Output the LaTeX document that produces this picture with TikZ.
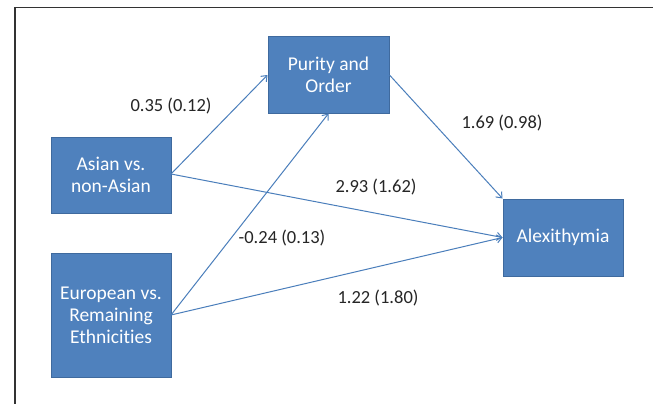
\documentclass[tikz,border=0pt]{standalone}
\usepackage{fontspec}
\setmainfont[Ligatures={NoCommon}]{Carlito}
\usetikzlibrary{arrows.meta}
\definecolor{boxfill}{HTML}{4F81BD}
\definecolor{boxline}{HTML}{3F6A9E}
\definecolor{arrowc}{HTML}{4A7EBB}
\begin{document}
\begin{tikzpicture}[x=1pt,y=-1pt,
  vbox/.style={draw=boxline, line width=1pt, fill=boxfill, text=white, align=center, inner sep=0pt,
    font=\fontsize{19.5}{22}\selectfont},
  link/.style={draw=arrowc, line width=1pt, -{Straight Barb[length=5pt,width=8pt]}},
  lbl/.style={font=\fontsize{18.5}{21}\selectfont, text=black!85}]
\useasboundingbox (0,0) rectangle (653,404);
\fill[white] (0,0) rectangle (653,404);
\draw[line width=1.3pt, black!80] (15,404) -- (15,7.5) -- (653,7.5);
\node[vbox, minimum width=121pt, minimum height=76pt] (pur) at (328.5,75) {Purity and\\Order};
\node[vbox, minimum width=120pt, minimum height=76pt] (asi) at (111,175) {Asian vs.\\non-Asian};
\node[vbox, minimum width=120pt, minimum height=124pt] (eur) at (111,315) {European vs.\\Remaining\\Ethnicities};
\node[vbox, minimum width=120pt, minimum height=77pt] (alx) at (563,237.5) {Alexithymia};
\coordinate (asiR) at (171,174);
\coordinate (eurR) at (171,315);
\draw[link] (asiR) -- (pur.west);
\draw[link] (asiR) -- (alx.west);
\draw[link] (eurR) -- (pur.south);
\draw[link] (eurR) -- (alx.west);
\draw[link] (pur.east) -- (alx.north west);
\node[lbl] (l1) at (171,106) {0.35 (0.12)};
\node[lbl] (l2) at (502,123) {1.69 (0.98)};
\node[lbl] (l3) at (376,187) {2.93 (1.62)};
\node[lbl] (l4) at (282,238) {-0.24 (0.13)};
\node[lbl] (l5) at (378,298) {1.22 (1.80)};
\end{tikzpicture}
\end{document}
